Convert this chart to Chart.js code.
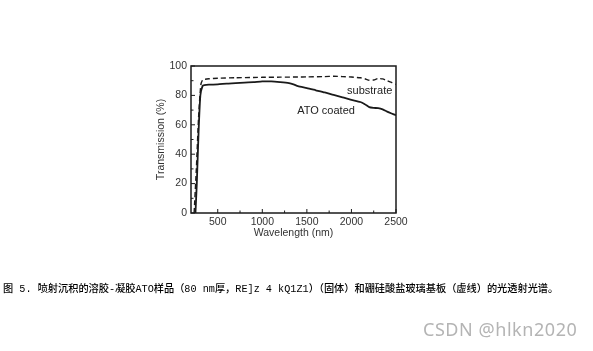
<!DOCTYPE html>
<html>
<head>
<meta charset="utf-8">
<script src="https://cdn.jsdelivr.net/npm/chart.js@4.4.0/dist/chart.umd.min.js"></script>
<style>
  html,body{margin:0;padding:0;background:#fff;}
  #wrap{position:relative;width:593px;height:351px;overflow:hidden;}
  #caption{position:absolute;left:3px;top:283px;font-family:"Liberation Mono","Noto Sans CJK SC";font-size:10.2px;color:#000;white-space:nowrap;line-height:14px;font-weight:500;}
  #wm{position:absolute;left:423px;top:318px;font-family:"Noto Sans","Noto Sans CJK SC";font-size:18px;letter-spacing:0.55px;color:#b4b4b4;white-space:nowrap;line-height:22px;}
</style>
</head>
<body>
<div id="wrap">
<canvas id="c" width="593" height="351"></canvas>
<div id="caption">图 5. 喷射沉积的溶胶-凝胶ATO样品（80 nm厚，RE]z 4 kQ1Z1）（固体）和硼硅酸盐玻璃基板（虚线）的光透射光谱。</div>
<div id="wm">CSDN @hlkn2020</div>
</div>
<script>
// ---- data ----
const atoWavelength = [250, 265, 285, 305, 330, 350, 400, 500, 600, 700, 800, 900, 1000, 1100, 1200, 1300, 1350, 1400, 1500, 1600, 1700, 1800, 1900, 2000, 2100, 2150, 2200, 2250, 2300, 2350, 2400, 2450, 2500];
const atoTransmission = [0, 20, 55, 80, 86.5, 87, 87.3, 87.5, 88, 88.3, 88.7, 89, 89.5, 89.5, 89, 88.3, 87.5, 86.3, 85, 83.5, 82, 80.3, 78.7, 77, 75.5, 74, 72, 71.5, 71.3, 70.5, 69, 67.7, 66.5];
const subWavelength = [235, 260, 285, 310, 330, 360, 400, 500, 700, 900, 1000, 1200, 1400, 1500, 1700, 1800, 1900, 2000, 2100, 2150, 2200, 2250, 2300, 2350, 2400, 2450, 2500];
const subTransmission = [0, 30, 65, 87, 90.5, 91, 91.3, 91.7, 92, 92.2, 92.3, 92.4, 92.5, 92.6, 92.8, 93, 92.8, 92.5, 92, 91.3, 90.3, 90.5, 91.5, 91.2, 90, 88.8, 87.5];
const xTicks = [500, 1000, 1500, 2000, 2500];
const xTickLabels = ["500", "1000", "1500", "2000", "2500"];
const xMinorTicks = [250, 750, 1250, 1750, 2250];
const yTicks = [0, 20, 40, 60, 80, 100];
const yTickLabels = ["0", "20", "40", "60", "80", "100"];
const yMinorTicks = [10, 30, 50, 70, 90];
const seriesLabels = ["ATO coated", "substrate"];
const annotations = [
  {text: "substrate", x: 2205, y: 83},
  {text: "ATO coated", x: 1715, y: 69.5}
];

const toPts = (xs, ys) => xs.map((x, i) => ({x: x, y: ys[i]}));
const INK = "#1a1a1a";

const framePlugin = {
  id: "frame",
  afterDatasetsDraw(chart) {
    const {ctx, chartArea: a, scales} = chart;
    const xs = scales.x, ys = scales.y;
    ctx.save();
    ctx.strokeStyle = INK;
    ctx.lineWidth = 1.5;
    ctx.strokeRect(a.left, a.top, a.right - a.left, a.bottom - a.top);
    ctx.lineWidth = 1;
    ctx.beginPath();
    xTicks.forEach(v => { const p = xs.getPixelForValue(v); ctx.moveTo(p, a.bottom); ctx.lineTo(p, a.bottom - 4); });
    xMinorTicks.forEach(v => { const p = xs.getPixelForValue(v); ctx.moveTo(p, a.bottom); ctx.lineTo(p, a.bottom - 2.5); });
    yTicks.forEach(v => { const p = ys.getPixelForValue(v); ctx.moveTo(a.left, p); ctx.lineTo(a.left + 4, p); });
    yMinorTicks.forEach(v => { const p = ys.getPixelForValue(v); ctx.moveTo(a.left, p); ctx.lineTo(a.left + 2.5, p); });
    ctx.stroke();
    ctx.fillStyle = "#222";
    ctx.font = "11px 'Liberation Sans', Arial, sans-serif";
    ctx.textAlign = "center";
    ctx.textBaseline = "middle";
    annotations.forEach(an => ctx.fillText(an.text, xs.getPixelForValue(an.x), ys.getPixelForValue(an.y)));
    ctx.restore();
  }
};

const tickFont = {family: "'Liberation Sans', Arial, sans-serif", size: 10.5};

new Chart(document.getElementById("c"), {
  type: "line",
  data: {
    datasets: [
      {label: seriesLabels[0], data: toPts(atoWavelength, atoTransmission), borderColor: INK, borderWidth: 1.8, pointRadius: 0, tension: 0.2, fill: false},
      {label: seriesLabels[1], data: toPts(subWavelength, subTransmission), borderColor: INK, borderWidth: 1.4, borderDash: [5, 3], pointRadius: 0, tension: 0.2, fill: false}
    ]
  },
  options: {
    responsive: false,
    animation: false,
    layout: {padding: {left: 155, top: 66, right: 197, bottom: 112}},
    plugins: {legend: {display: false}, tooltip: {enabled: false}},
    scales: {
      x: {
        type: "linear", min: 200, max: 2500,
        afterBuildTicks: s => { s.ticks = xTicks.map(v => ({value: v})); },
        afterFit: s => { s.height = 26; },
        grid: {display: false, drawTicks: false},
        border: {display: false},
        ticks: {color: "#333", padding: 3, maxRotation: 0, font: tickFont,
          callback: (v) => { const i = xTicks.indexOf(v); return i >= 0 ? xTickLabels[i] : ""; }},
        title: {display: true, text: "Wavelength (nm)", color: "#333", padding: 0, font: tickFont}
      },
      y: {
        type: "linear", min: 0, max: 100,
        afterBuildTicks: s => { s.ticks = yTicks.map(v => ({value: v})); },
        afterFit: s => { s.width = 36; },
        grid: {display: false, drawTicks: false},
        border: {display: false},
        ticks: {color: "#333", padding: 4, font: tickFont,
          callback: (v) => { const i = yTicks.indexOf(v); return i >= 0 ? yTickLabels[i] : ""; }},
        title: {display: true, text: "Transmission (%)", color: "#333", padding: 0, font: tickFont}
      }
    }
  },
  plugins: [framePlugin]
});
</script>
</body>
</html>
